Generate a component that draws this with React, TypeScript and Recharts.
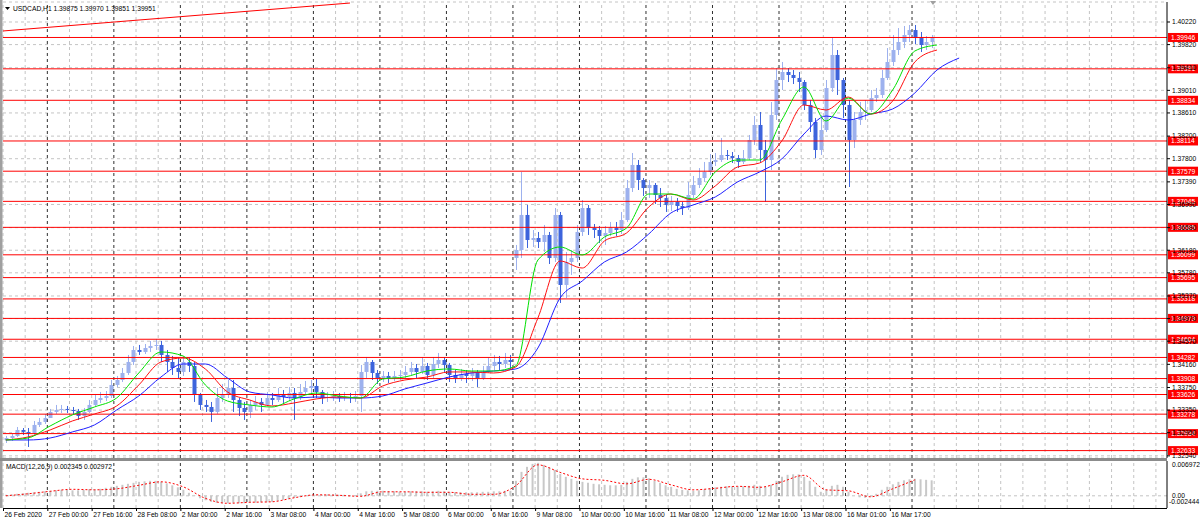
import { Bar, CartesianGrid, ComposedChart, Line, ReferenceLine, XAxis, YAxis } from "recharts";

const FONT = "Tahoma, 'Liberation Sans', Arial, sans-serif";
const SLOTS = 210; // two-hour slots across the whole chart width
const MA_STEP = 4; // moving averages / signal read every 4 slots
const LABEL_STEP = 8;
const PLOT_LEFT = 3;
const PLOT_WIDTH = 1164;

// two-hour candles, USDCAD
const opens = [
  1.32821, 1.32856, 1.32892, 1.32998, 1.32963, 1.32945, 1.33087, 1.3314, 1.3321, 1.33317,
  1.33352, 1.3337, 1.33352, 1.33334, 1.33246, 1.33317, 1.33441, 1.33529, 1.33564, 1.336,
  1.33795, 1.33883, 1.34007, 1.34202, 1.34414, 1.34379, 1.34449, 1.34485, 1.34503, 1.34326,
  1.34202, 1.34095, 1.34025, 1.34202, 1.34131, 1.33618, 1.33441, 1.33405, 1.33317, 1.33564,
  1.33618, 1.33741, 1.33529, 1.33387, 1.33317, 1.33441, 1.33494, 1.33441, 1.33564, 1.33529,
  1.33618, 1.33582, 1.33653, 1.33564, 1.33671, 1.33741, 1.33777, 1.33671, 1.33564, 1.33582,
  1.336, 1.33564, 1.33582, 1.33564, 1.336, 1.34025, 1.34202, 1.34007, 1.33918, 1.33954,
  1.33918, 1.33954, 1.33972, 1.34025, 1.34095, 1.34025, 1.34131, 1.33972, 1.34166, 1.34237,
  1.34149, 1.33972, 1.33918, 1.33989, 1.33954, 1.34025, 1.33918, 1.34025, 1.34131, 1.34202,
  1.34166, 1.34237, 1.36042, 1.36184, 1.36804, 1.36361, 1.36396, 1.36326, 1.3645, 1.36042,
  1.36804, 1.35565, 1.35972, 1.36042, 1.36503, 1.36927, 1.36573, 1.36538, 1.36432, 1.36485,
  1.36573, 1.36538, 1.36715, 1.37281, 1.37689, 1.37423, 1.37281, 1.37335, 1.37158, 1.37104,
  1.36981, 1.37034, 1.36963, 1.36927, 1.37158, 1.37335, 1.37458, 1.37565, 1.37742, 1.37777,
  1.37866, 1.37848, 1.37812, 1.37742, 1.37812, 1.38131, 1.38397, 1.37954, 1.37777, 1.38574,
  1.39193, 1.39335, 1.39282, 1.39229, 1.39158, 1.38751, 1.3845, 1.37954, 1.38308, 1.39051,
  1.39636, 1.39193, 1.38751, 1.38131, 1.38485, 1.38627, 1.38662, 1.38874, 1.38928, 1.39229,
  1.39512, 1.39724, 1.39866, 1.3999, 1.40078, 1.39936, 1.39813, 1.39866,
];
const highs = [
  1.32892, 1.32927, 1.33051, 1.33033, 1.33033, 1.33157, 1.3321, 1.33281, 1.3337, 1.33441,
  1.33441, 1.33423, 1.33405, 1.3337, 1.33387, 1.33529, 1.33635, 1.33671, 1.33688, 1.33883,
  1.33954, 1.34095, 1.34326, 1.34485, 1.34503, 1.3452, 1.34573, 1.34609, 1.34573, 1.34414,
  1.34308, 1.34272, 1.34308, 1.34272, 1.34202, 1.33653, 1.33529, 1.33494, 1.33741, 1.33812,
  1.33883, 1.33883, 1.33564, 1.33494, 1.33529, 1.336, 1.33564, 1.33671, 1.33653, 1.33741,
  1.33706, 1.33759, 1.33741, 1.33812, 1.33865, 1.33883, 1.33901, 1.33706, 1.33671, 1.33688,
  1.33653, 1.33671, 1.33653, 1.33688, 1.34149, 1.3429, 1.34237, 1.3406, 1.34042, 1.34025,
  1.34042, 1.3406, 1.34131, 1.34202, 1.34166, 1.3429, 1.34184, 1.3429, 1.34361, 1.3429,
  1.34184, 1.3406, 1.34078, 1.3406, 1.34095, 1.3406, 1.34131, 1.34272, 1.34326, 1.34308,
  1.34361, 1.34326, 1.36273, 1.37565, 1.36981, 1.36538, 1.36503, 1.36627, 1.36503, 1.36927,
  1.36857, 1.36149, 1.36184, 1.36627, 1.37069, 1.36981, 1.36644, 1.36609, 1.36609, 1.3668,
  1.3668, 1.36857, 1.37423, 1.37901, 1.37777, 1.37458, 1.37423, 1.3737, 1.37281, 1.37158,
  1.3714, 1.37104, 1.37034, 1.37388, 1.37494, 1.37635, 1.37742, 1.37883, 1.37901, 1.38166,
  1.37954, 1.37919, 1.37866, 1.37954, 1.3822, 1.38556, 1.38627, 1.38131, 1.38804, 1.39405,
  1.39512, 1.39405, 1.3937, 1.39335, 1.39193, 1.38839, 1.3852, 1.38574, 1.39193, 1.39936,
  1.39724, 1.39229, 1.38839, 1.38627, 1.38804, 1.38839, 1.39016, 1.39051, 1.3937, 1.39759,
  1.3999, 1.40113, 1.40149, 1.40167, 1.40167, 1.40043, 1.39972, 1.3999,
];
const lows = [
  1.32768, 1.32803, 1.32874, 1.3291, 1.32697, 1.32892, 1.33051, 1.33104, 1.3321, 1.33281,
  1.33299, 1.33299, 1.33281, 1.33175, 1.33175, 1.33299, 1.33423, 1.33476, 1.33511, 1.33564,
  1.33759, 1.33848, 1.33972, 1.34149, 1.34326, 1.34343, 1.34379, 1.34414, 1.34202, 1.34025,
  1.33972, 1.33918, 1.33954, 1.34025, 1.33494, 1.33352, 1.33317, 1.3314, 1.33281, 1.33494,
  1.33564, 1.33317, 1.33246, 1.33175, 1.3321, 1.33352, 1.33317, 1.33423, 1.33441, 1.33494,
  1.33476, 1.33511, 1.33175, 1.33529, 1.33618, 1.33635, 1.33564, 1.33458, 1.33494, 1.33511,
  1.33494, 1.33511, 1.33476, 1.33494, 1.33317, 1.33918, 1.33883, 1.33812, 1.33848, 1.3383,
  1.33865, 1.33883, 1.33918, 1.33972, 1.33918, 1.33989, 1.33883, 1.33918, 1.34095, 1.34025,
  1.33848, 1.3383, 1.33865, 1.3383, 1.33865, 1.33759, 1.33883, 1.34007, 1.3406, 1.34042,
  1.34095, 1.3406, 1.3583, 1.36042, 1.36219, 1.36237, 1.36219, 1.36149, 1.35936, 1.35972,
  1.35246, 1.35334, 1.35742, 1.35972, 1.36432, 1.3645, 1.36396, 1.36308, 1.36273, 1.36432,
  1.36432, 1.36467, 1.3668, 1.37211, 1.37246, 1.3714, 1.37104, 1.36998, 1.36945, 1.36857,
  1.36874, 1.36857, 1.36804, 1.36892, 1.37104, 1.37281, 1.37388, 1.37512, 1.37671, 1.37742,
  1.37777, 1.37724, 1.37635, 1.37706, 1.37777, 1.38043, 1.37742, 1.37034, 1.376, 1.38485,
  1.39016, 1.39158, 1.39122, 1.38981, 1.38662, 1.38273, 1.37812, 1.37866, 1.38273, 1.38981,
  1.38928, 1.3852, 1.37299, 1.37989, 1.38397, 1.38485, 1.38627, 1.38804, 1.38874, 1.39193,
  1.39441, 1.39636, 1.39759, 1.39866, 1.3983, 1.39689, 1.39724, 1.39759,
];
const closes = [
  1.32856, 1.32892, 1.32998, 1.32963, 1.32945, 1.33087, 1.3314, 1.3321, 1.33317, 1.33352,
  1.3337, 1.33352, 1.33334, 1.33246, 1.33317, 1.33441, 1.33529, 1.33564, 1.336, 1.33795,
  1.33883, 1.34007, 1.34202, 1.34414, 1.34379, 1.34449, 1.34485, 1.34503, 1.34326, 1.34202,
  1.34095, 1.34025, 1.34202, 1.34131, 1.33618, 1.33441, 1.33405, 1.33317, 1.33564, 1.33618,
  1.33741, 1.33529, 1.33387, 1.33317, 1.33441, 1.33494, 1.33441, 1.33564, 1.33529, 1.33618,
  1.33582, 1.33653, 1.33564, 1.33671, 1.33741, 1.33777, 1.33671, 1.33564, 1.33582, 1.336,
  1.33564, 1.33582, 1.33564, 1.336, 1.34025, 1.34202, 1.34007, 1.33918, 1.33954, 1.33918,
  1.33954, 1.33972, 1.34025, 1.34095, 1.34025, 1.34131, 1.33972, 1.34166, 1.34237, 1.34149,
  1.33972, 1.33918, 1.33989, 1.33954, 1.34025, 1.33918, 1.34025, 1.34131, 1.34202, 1.34166,
  1.34237, 1.34202, 1.36184, 1.36804, 1.36361, 1.36396, 1.36326, 1.3645, 1.36042, 1.36804,
  1.35565, 1.35972, 1.36042, 1.36503, 1.36927, 1.36573, 1.36538, 1.36432, 1.36485, 1.36573,
  1.36538, 1.36715, 1.37281, 1.37689, 1.37423, 1.37281, 1.37335, 1.37158, 1.37104, 1.36981,
  1.37034, 1.36963, 1.36927, 1.37158, 1.37335, 1.37458, 1.37565, 1.37742, 1.37777, 1.37866,
  1.37848, 1.37812, 1.37742, 1.37812, 1.38131, 1.38397, 1.37954, 1.37777, 1.38574, 1.39193,
  1.39335, 1.39282, 1.39229, 1.39158, 1.38751, 1.3845, 1.37954, 1.38308, 1.39051, 1.39636,
  1.39193, 1.38751, 1.38131, 1.38485, 1.38627, 1.38662, 1.38874, 1.38928, 1.39229, 1.39512,
  1.39724, 1.39866, 1.3999, 1.40078, 1.39936, 1.39813, 1.39866, 1.39951,
];

// moving averages, one value every MA_STEP slots
const greenMA = [
  1.32821, 1.32856, 1.33069, 1.33264, 1.33405, 1.33564, 1.34007, 1.34379, 1.34308, 1.33795,
  1.33511, 1.33441, 1.33405, 1.33547, 1.33653, 1.336, 1.33564, 1.33901, 1.33936, 1.34042,
  1.34078, 1.34042, 1.34042, 1.34131, 1.36007, 1.36237, 1.36096, 1.36414, 1.36573, 1.37175,
  1.37175, 1.37087, 1.37565, 1.37777, 1.37777, 1.38485, 1.39069, 1.38467, 1.38874, 1.38591,
  1.39016, 1.39706, 1.39813,
];
const redMA = [
  1.32821, 1.32874, 1.32998, 1.33157, 1.33281, 1.33423, 1.33795, 1.34202, 1.34272, 1.34078,
  1.33671, 1.33529, 1.33423, 1.33476, 1.33547, 1.33582, 1.33564, 1.33777, 1.33883, 1.33936,
  1.34025, 1.34025, 1.34007, 1.34113, 1.3498, 1.35989, 1.35865, 1.36343, 1.36485, 1.36945,
  1.37175, 1.37069, 1.37317, 1.37653, 1.37724, 1.38113, 1.38751, 1.38662, 1.38892, 1.38591,
  1.38821, 1.39512, 1.39724,
];
const blueMA = [
  1.32821, 1.32821, 1.32856, 1.32963, 1.33087, 1.33352, 1.336, 1.33936, 1.34166, 1.34166,
  1.33918, 1.33671, 1.33618, 1.33564, 1.33582, 1.33564, 1.33564, 1.336, 1.33724, 1.3383,
  1.33936, 1.34007, 1.34042, 1.34078, 1.34449, 1.35334, 1.35635, 1.35972, 1.36149, 1.36467,
  1.36839, 1.36981, 1.37122, 1.37388, 1.37565, 1.37795, 1.38237, 1.38556, 1.38485, 1.38591,
  1.3868, 1.38963, 1.3937, 1.39582,
];

// MACD(12,26,9)
const macdHist = [
  0.0002, 0.0003, 0.0004, 0.0005, 0.0006, 0.0007, 0.0008, 0.0009, 0.001, 0.0011,
  0.0012, 0.0012, 0.0011, 0.0011, 0.0012, 0.0013, 0.0013, 0.0014, 0.0016, 0.0018,
  0.002, 0.0022, 0.0024, 0.0026, 0.0028, 0.0029, 0.003, 0.003, 0.0028, 0.0025,
  0.0021, 0.0017, 0.0012, 0.0006, 0.0001, -0.0005, -0.0009, -0.0012, -0.0014, -0.0015,
  -0.0015, -0.0014, -0.0015, -0.0015, -0.0014, -0.0014, -0.0013, -0.0013, -0.0012, -0.001,
  -0.0008, -0.0006, -0.0004, -0.0002, 0.0, 0.0001, 0.0002, 0.0002, 0.0003, 0.0003,
  0.0002, 0.0002, 0.0001, 0.0001, 0.0005, 0.0009, 0.001, 0.001, 0.001, 0.0009,
  0.0009, 0.0008, 0.0008, 0.0009, 0.0009, 0.0009, 0.0008, 0.0009, 0.001, 0.0009,
  0.0008, 0.0007, 0.0007, 0.0007, 0.0007, 0.0007, 0.0008, 0.0008, 0.0009, 0.0009,
  0.001, 0.001, 0.003, 0.0048, 0.0058, 0.0064, 0.0066, 0.0062, 0.0057, 0.0052,
  0.0044, 0.0038, 0.0034, 0.003, 0.0028, 0.0026, 0.0024, 0.0023, 0.0022, 0.0021,
  0.0021, 0.0022, 0.0028, 0.0034, 0.0037, 0.0037, 0.0035, 0.003, 0.0026, 0.0021,
  0.0018, 0.0014, 0.0012, 0.0011, 0.001, 0.0011, 0.0013, 0.0015, 0.0017, 0.0018,
  0.0019, 0.0019, 0.0019, 0.0019, 0.002, 0.0022, 0.002, 0.0018, 0.0022, 0.003,
  0.0038, 0.0042, 0.0043, 0.0043, 0.0038, 0.003, 0.0018, 0.0008, 0.0012, 0.002,
  0.0022, 0.0018, 0.0008, 0.0, -0.0003, -0.0004, -0.0002, 0.0004, 0.0012, 0.0018,
  0.0023, 0.0028, 0.0031, 0.0033, 0.0034, 0.0033, 0.0032, 0.0031,
];
const macdSignal = [
  0.0, 0.0004, 0.0009, 0.0013, 0.0012, 0.0014, 0.0021, 0.0028, 0.0018, -0.0005,
  -0.0015, -0.0013, -0.0012, -0.0004, 0.0002, 0.0001, -0.0001, 0.0008, 0.0008, 0.0007,
  0.0007, 0.0003, 0.0003, 0.002, 0.0062, 0.0047, 0.0034, 0.0031, 0.0024, 0.0033,
  0.0022, 0.0012, 0.0015, 0.0019, 0.0017, 0.0028, 0.0041, 0.0012, 0.001, -0.0002,
  0.0014, 0.0032,
];

const priceTicks = [
  1.4022, 1.3982, 1.3941, 1.3901, 1.3861, 1.382, 1.378, 1.3739, 1.3699, 1.3658,
  1.3618, 1.3578, 1.3537, 1.3497, 1.3457, 1.3416, 1.3375, 1.3335, 1.3295, 1.3254,
];
const levels = [
  1.39946, 1.39391, 1.38834, 1.38114, 1.37579, 1.37045, 1.36585, 1.36099, 1.35695,
  1.35318, 1.34973, 1.34604, 1.34282, 1.33908, 1.33626, 1.33278, 1.32934, 1.32633,
];
const trendSlots = [0, 62.6];
const trendPrices = [1.40061, 1.40556];
const timeLabels = [
  "26 Feb 2020", "27 Feb 00:00", "27 Feb 16:00", "28 Feb 08:00", "2 Mar 00:00",
  "2 Mar 16:00", "3 Mar 08:00", "4 Mar 00:00", "4 Mar 16:00", "5 Mar 08:00",
  "6 Mar 00:00", "6 Mar 16:00", "9 Mar 08:00", "10 Mar 00:00", "10 Mar 16:00",
  "11 Mar 08:00", "12 Mar 00:00", "12 Mar 16:00", "13 Mar 08:00", "16 Mar 01:00",
  "16 Mar 17:00",
];
const daySeparators = [8, 20, 32, 44, 56, 68, 80, 92, 104, 116, 128, 140, 152, 164];

const rows = Array.from({ length: SLOTS }, (_, slot) => {
  const m = slot % MA_STEP === 0 ? slot / MA_STEP : -1;
  return {
    slot,
    open: opens[slot] ?? null,
    high: highs[slot] ?? null,
    low: lows[slot] ?? null,
    close: closes[slot] ?? null,
    green: m >= 0 ? greenMA[m] ?? null : null,
    red: m >= 0 ? redMA[m] ?? null : null,
    blue: m >= 0 ? blueMA[m] ?? null : null,
    hist: macdHist[slot] ?? null,
    signal: m >= 0 ? macdSignal[m] ?? null : null,
  };
});

const gridSlots = Array.from({ length: SLOTS / MA_STEP + 1 }, (_, i) => i * MA_STEP).filter(
  (s) => !daySeparators.includes(s)
);
const slotX = (s: number) => PLOT_LEFT + (s * PLOT_WIDTH) / SLOTS;

function Candle(props: any) {
  const { x, y, width, height, payload } = props;
  if (!payload || payload.high == null) return <g />;
  const { open, high, low, close } = payload;
  const range = high - low || 1e-9;
  const top = Math.min(y, y + height);
  const h = Math.abs(height);
  const py = (v: number) => top + ((high - v) / range) * h;
  const cx = Math.round(x + width / 2) + 0.5;
  const up = close >= open;
  const color = up ? "#9db1ee" : "#3d64dc";
  const bTop = py(Math.max(open, close));
  const bH = Math.max(1, py(Math.min(open, close)) - bTop);
  return (
    <g>
      <line x1={cx} x2={cx} y1={top} y2={top + h} stroke={color} strokeWidth={1} />
      <rect x={cx - width / 2} y={bTop} width={width} height={bH} fill={color} />
    </g>
  );
}

function PriceTag(props: any) {
  const vb = props.viewBox;
  if (!vb) return null;
  const x = vb.x + vb.width + 1;
  return (
    <g>
      <rect x={x} y={vb.y - 4.5} width={30} height={9} fill="#ff0000" />
      <text x={x + 3} y={vb.y + 2.4} fontSize={6.7} fill="#ffffff" fontFamily={FONT}>
        {props.price.toFixed(5)}
      </text>
    </g>
  );
}

function MacdTick(props: any) {
  const { x, y, payload } = props;
  const v = payload.value;
  const shift = v > 0 ? 4 : v < 0 ? -6 : 0;
  const text = v === 0 ? "0.00" : v.toFixed(6);
  return (
    <text x={v < 0 ? x - 3 : x} y={y + shift + 2.4} fontSize={6.7} fill="#000" fontFamily={FONT}>
      {text}
    </text>
  );
}

function gridLines() {
  return [
    ...gridSlots.map((s) => (
      <ReferenceLine key={"g" + s} xAxisId="t" x={s} stroke="#c4c4c4" strokeDasharray="3 3" />
    )),
    ...daySeparators.map((s) => (
      <ReferenceLine key={"d" + s} xAxisId="t" x={s} stroke="#303030" strokeDasharray="3 3" />
    )),
  ];
}

export default function App() {
  return (
    <div
      style={{
        position: "absolute",
        left: 0,
        top: 0,
        width: 1200,
        height: 524,
        background: "#ffffff",
        fontFamily: FONT,
        overflow: "hidden",
      }}
    >
      <div style={{ position: "absolute", left: 0, top: 0 }}>
        <ComposedChart width={1200} height={458} data={rows} margin={{ top: 2, right: 0, bottom: 0, left: PLOT_LEFT }}>
          <XAxis xAxisId="c" dataKey="slot" type="category" hide />
          <XAxis xAxisId="t" dataKey="slot" type="number" domain={[0, SLOTS]} allowDataOverflow hide />
          <YAxis
            orientation="right"
            width={33}
            domain={[1.32502, 1.40574]}
            allowDataOverflow
            ticks={priceTicks}
            interval={0}
            tickFormatter={(v: number) => v.toFixed(5)}
            tick={{ fontSize: 6.7, fill: "#000", fontFamily: FONT }}
            tickSize={3}
            axisLine={{ stroke: "#000" }}
            tickLine={{ stroke: "#000" }}
          />
          <CartesianGrid xAxisId="t" vertical={false} stroke="#c4c4c4" strokeDasharray="3 3" />
          {gridLines()}
          {levels.map((lv) => (
            <ReferenceLine
              key={lv}
              xAxisId="t"
              y={lv}
              stroke="#ff0000"
              label={(p: any) => <PriceTag {...p} price={lv} />}
            />
          ))}
          <ReferenceLine
            xAxisId="t"
            segment={[
              { x: trendSlots[0], y: trendPrices[0] },
              { x: trendSlots[1], y: trendPrices[1] },
            ]}
            stroke="#ff0000"
          />
          <Bar
            xAxisId="c"
            dataKey={(d: any) => (d.high == null ? null : [d.low, d.high])}
            barSize={4}
            shape={(p: any) => <Candle {...p} />}
            isAnimationActive={false}
          />
          <Line xAxisId="c" type="monotone" dataKey="blue" stroke="#2020ff" strokeWidth={1} dot={false} connectNulls isAnimationActive={false} />
          <Line xAxisId="c" type="monotone" dataKey="red" stroke="#ff1010" strokeWidth={1} dot={false} connectNulls isAnimationActive={false} />
          <Line xAxisId="c" type="monotone" dataKey="green" stroke="#00e000" strokeWidth={1} dot={false} connectNulls isAnimationActive={false} />
        </ComposedChart>
      </div>
      <div style={{ position: "absolute", left: 0, top: 458 }}>
        <ComposedChart width={1200} height={50} data={rows} margin={{ top: 3, right: 0, bottom: 0, left: PLOT_LEFT }}>
          <XAxis xAxisId="c" dataKey="slot" type="category" hide />
          <XAxis xAxisId="t" dataKey="slot" type="number" domain={[0, SLOTS]} allowDataOverflow hide />
          <YAxis
            orientation="right"
            width={33}
            domain={[-0.002444, 0.006972]}
            allowDataOverflow
            ticks={[0.006972, 0, -0.002444]}
            interval={0}
            tick={<MacdTick />}
            tickSize={3}
            axisLine={{ stroke: "#000" }}
            tickLine={false}
          />
          {gridLines()}
          <ReferenceLine xAxisId="t" y={0} stroke="#c4c4c4" strokeDasharray="3 3" />
          <Bar xAxisId="c" dataKey="hist" fill="#c8c8c8" barSize={2} isAnimationActive={false} />
          <Line xAxisId="c" type="monotone" dataKey="signal" stroke="#ff0000" strokeWidth={1} strokeDasharray="2 2" dot={false} connectNulls isAnimationActive={false} />
        </ComposedChart>
      </div>
      <svg width={1200} height={524} style={{ position: "absolute", left: 0, top: 0, pointerEvents: "none" }}>
        <rect x={0} y={0} width={2.5} height={508} fill="#a0a0a0" />
        <rect x={0} y={458} width={1167} height={3} fill="#8c8c8c" />
        <line x1={PLOT_LEFT} x2={1167} y1={508.5} y2={508.5} stroke="#000" />
        {timeLabels.map((t, i) => {
          const x = slotX(i * LABEL_STEP);
          return (
            <g key={t}>
              <line x1={x + 0.5} x2={x + 0.5} y1={508} y2={511} stroke="#000" />
              <text x={x + 1.5} y={516.5} fontSize={6.7} fill="#000" fontFamily={FONT}>
                {t}
              </text>
            </g>
          );
        })}
        <path d="M5 7 L10 7 L7.5 10 Z" fill="#000" />
        <text x={13} y={11} fontSize={6.7} fill="#000" fontFamily={FONT}>
          USDCAD,H1  1.39875 1.39970 1.39851 1.39951
        </text>
        <text x={6} y={469} fontSize={6.7} fill="#000" fontFamily={FONT}>
          MACD(12,26,9) 0.002345 0.002972
        </text>
        <path d="M930 1 L936 1 L933 5 Z" fill="#a0a0a0" />
      </svg>
    </div>
  );
}
